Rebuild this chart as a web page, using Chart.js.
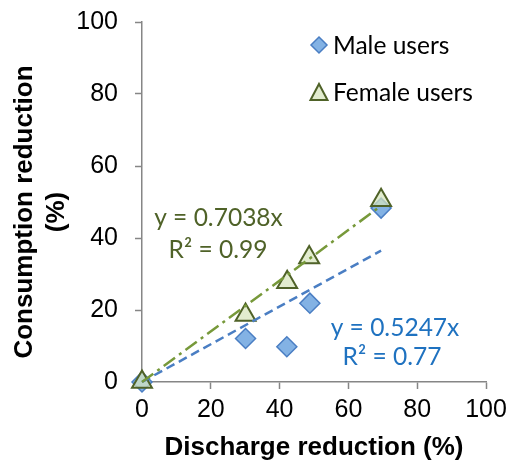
<!DOCTYPE html>
<html><head><meta charset="utf-8">
<script src="https://cdn.jsdelivr.net/npm/chart.js@4.4.1/dist/chart.umd.min.js"></script>
<style>html,body{margin:0;padding:0;background:#fff;} #wrap{width:509px;height:467px;position:relative;}</style>
</head><body><div id="wrap"><canvas id="c" width="509" height="467"></canvas></div>
<script>
// ---- data ----
const maleX = [0, 30.1, 42.1, 48.8, 69.5];
const maleY = [0, 12.1, 9.8, 21.9, 48.3];
const femaleX = [0, 30.1, 42.2, 48.6, 69.5];
const femaleY = [0, 18.6, 27.7, 34.6, 50.5];
const maleSlope = 0.5247;
const femaleSlope = 0.7038;
const trendX = [0, 69.5];
const axisTicks = [0, 20, 40, 60, 80, 100];
const seriesNames = ['Male users', 'Female users'];
const maleEq = ['y = 0.5247x', 'R² = 0.77'];
const femaleEq = ['y = 0.7038x', 'R² = 0.99'];
const xTitle = 'Discharge reduction (%)';
const yTitle = ['Consumption reduction', '(%)'];

// ---- styles ----
const MALE_FILL = '#83B2E4', MALE_EDGE = '#4A7EC3';
const FEM_FILL = 'rgba(215,228,189,0.72)', FEM_EDGE = '#4F6228';
const MALE_LINE = '#4A7EC3', FEM_LINE = '#77993A';
const MALE_TXT = '#1F72C0', FEM_TXT = '#4F6228';
const AXIS = '#868686';
const TICK_FONT = {family: '"Liberation Sans", Arial, sans-serif', size: 25};
const TITLE_FONT = '"Liberation Sans", Arial, sans-serif';
const CAL = 'Lato, "Open Sans", sans-serif';

const pts = (xs, ys) => xs.map((x, i) => ({x, y: ys[i]}));
const trend = (s) => trendX.map(x => ({x, y: x * s}));

function drawDiamond(ctx, x, y, r) {
  ctx.beginPath();
  ctx.moveTo(x, y - r); ctx.lineTo(x + r, y); ctx.lineTo(x, y + r); ctx.lineTo(x - r, y); ctx.closePath();
  ctx.fillStyle = MALE_FILL; ctx.fill();
  ctx.lineWidth = 1.5; ctx.strokeStyle = MALE_EDGE; ctx.stroke();
}
function drawTri(ctx, cx, cy, w) {
  const h = w * 0.95;
  ctx.beginPath();
  ctx.moveTo(cx, cy - h / 2); ctx.lineTo(cx + w / 2, cy + h / 2); ctx.lineTo(cx - w / 2, cy + h / 2); ctx.closePath();
  ctx.fillStyle = FEM_FILL; ctx.fill();
  ctx.lineWidth = 2; ctx.strokeStyle = FEM_EDGE; ctx.stroke();
}

const overlay = {
  id: 'overlay',
  afterDraw(chart) {
    const ctx = chart.ctx;
    ctx.save();
    // y axis title
    ctx.translate(41, 212);
    ctx.rotate(-Math.PI / 2);
    ctx.fillStyle = '#000';
    ctx.font = 'bold 26px ' + TITLE_FONT;
    ctx.textAlign = 'center';
    ctx.textBaseline = 'middle';
    ctx.fillText(yTitle[0], 0, -16);
    ctx.fillText(yTitle[1], 0, 16);
    ctx.restore();

    ctx.save();
    ctx.font = '26px ' + CAL;
    const w = ctx.measureText(seriesNames[1]).width;
    const fs = 26 * 140 / w;
    ctx.font = fs.toFixed(2) + 'px ' + CAL;
    ctx.textBaseline = 'middle';
    // legend
    drawDiamond(ctx, 319, 45, 8);
    drawTri(ctx, 319, 92, 17);
    ctx.fillStyle = '#000';
    ctx.textAlign = 'left';
    ctx.fillText(seriesNames[0], 333, 46);
    ctx.fillText(seriesNames[1], 333, 93);
    // equations
    ctx.textAlign = 'center';
    ctx.fillStyle = FEM_TXT;
    ctx.fillText(femaleEq[0], 218.5, 218);
    ctx.fillText(femaleEq[1], 218, 250);
    ctx.fillStyle = MALE_TXT;
    ctx.fillText(maleEq[0], 395, 328);
    ctx.fillText(maleEq[1], 392, 357);
    ctx.restore();
  }
};

new Chart(document.getElementById('c'), {
  type: 'scatter',
  data: {
    datasets: [
      {label: 'Female trend', data: trend(femaleSlope), showLine: true, pointRadius: 0,
       borderColor: FEM_LINE, borderWidth: 2.5, borderDash: [14, 5, 3, 5], clip: false},
      {label: 'Male trend', data: trend(maleSlope), showLine: true, pointRadius: 0,
       borderColor: MALE_LINE, borderWidth: 2.5, borderDash: [9, 5], clip: false},
      {label: seriesNames[1], data: pts(femaleX, femaleY), pointStyle: 'triangle', pointRadius: 11.5,
       backgroundColor: FEM_FILL, borderColor: FEM_EDGE, borderWidth: 2, clip: false},
      {label: seriesNames[0], data: pts(maleX, maleY), pointStyle: 'rectRot', pointRadius: 10,
       backgroundColor: MALE_FILL, borderColor: MALE_EDGE, borderWidth: 1.5, clip: false}
    ]
  },
  options: {
    responsive: false,
    animation: false,
    events: [],
    layout: {padding: {top: 22, right: 23, left: 0, bottom: 0}},
    plugins: {legend: {display: false}, tooltip: {enabled: false}},
    scales: {
      x: {
        type: 'linear', min: 0, max: 100,
        afterBuildTicks: (s) => { s.ticks = axisTicks.map(v => ({value: v})); },
        afterFit: (s) => { s.height = 85; s.paddingLeft = 0; s.paddingRight = 0; },
        grid: {drawOnChartArea: false, drawTicks: true, tickLength: 7, tickColor: AXIS, tickWidth: 1.5},
        border: {color: AXIS, width: 1.5},
        ticks: {color: '#000', font: TICK_FONT, padding: 6, maxRotation: 0},
        title: {display: true, text: xTitle, color: '#000',
                font: {family: TITLE_FONT, size: 26, weight: 'bold'}, padding: {top: 0, bottom: 4}}
      },
      y: {
        type: 'linear', min: 0, max: 100,
        afterBuildTicks: (s) => { s.ticks = axisTicks.map(v => ({value: v})); },
        afterFit: (s) => { s.width = 142; s.paddingTop = 0; s.paddingBottom = 0; },
        grid: {drawOnChartArea: false, drawTicks: true, tickLength: 7, tickColor: AXIS, tickWidth: 1.5},
        border: {color: AXIS, width: 1.5},
        ticks: {color: '#000', font: TICK_FONT, padding: 17}
      }
    }
  },
  plugins: [overlay]
});
</script>
</body></html>
